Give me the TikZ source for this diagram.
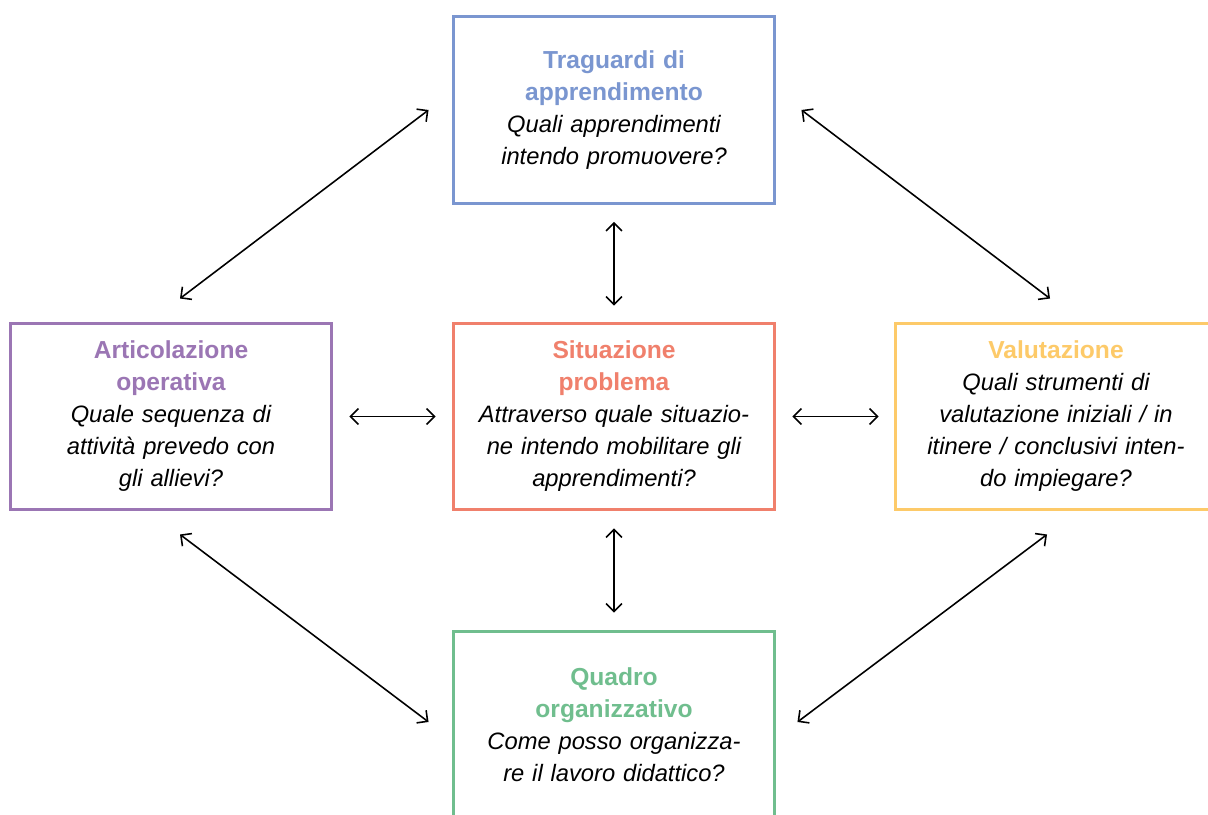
\documentclass[tikz,border=0pt]{standalone}
\usepackage{fontspec}
\setmainfont{Liberation Sans}
\usetikzlibrary{arrows.meta}

\definecolor{blu}{RGB}{122,150,208}
\definecolor{viola}{RGB}{155,118,180}
\definecolor{salmone}{RGB}{240,128,108}
\definecolor{giallo}{RGB}{253,202,105}
\definecolor{verde}{RGB}{112,190,142}

\def\recbase{6.44cm}
\def\recheight{3.74cm}
\newcommand{\titolo}[2]{{\upshape\bfseries\color{#1}\fontsize{14}{18.2}\selectfont #2}\\}

\begin{document}
\begin{tikzpicture}[x=0.02cm,y=0.02cm,
    box/.style={draw,line width=1.7pt,fill=white,minimum width=\recbase,
      minimum height=\recheight,text width=5.6cm,align=center,
      font=\fontsize{13.5}{18.2}\selectfont\itshape},
    link/.style={{Straight Barb[length=4.5pt,width=9pt]}-{Straight Barb[length=4.5pt,width=9pt]},
      line width=0.9pt}]

    \useasboundingbox[fill=white] (0,0) rectangle (1208,815);

    \node[box,draw=blu] (traguardi) at (614,705)
    {\titolo{blu}{Traguardi di\\apprendimento}Quali apprendimenti\\intendo promuovere?};
    \node[box,draw=viola] (articolazione) at (171,398.5)
    {\titolo{viola}{Articolazione\\operativa}Quale sequenza di\\attività prevedo con\\gli allievi?};
    \node[box,draw=salmone] (situazione) at (614,398.5)
    {\titolo{salmone}{Situazione\\problema}Attraverso quale situazio-\\ne intendo mobilitare gli\\apprendimenti?};
    \node[box,draw=giallo] (valutazione) at (1056,398.5)
    {\titolo{giallo}{Valutazione}Quali strumenti di\\valutazione iniziali / in\\itinere / conclusivi inten-\\do impiegare?};
    \node[box,draw=verde] (quadro) at (614,90.5)
    {\titolo{verde}{Quadro\\organizzativo}Come posso organizza-\\re il lavoro didattico?};

    % frecce verso il centro
    \draw[link] ([shift={(0,-17)}]traguardi.south) -- ([shift={(0,16)}]situazione.north);
    \draw[link] ([shift={(16,0)}]articolazione.east) -- ([shift={(-16,0)}]situazione.west);
    \draw[link] ([shift={(16,0)}]situazione.east) -- ([shift={(-15,0)}]valutazione.west);
    \draw[link] ([shift={(0,-17)}]situazione.south) -- ([shift={(0,17)}]quadro.north);

    % frecce diagonali
    \draw[link] ([shift={(-23,0)}]traguardi.west) -- ([shift={(9,23)}]articolazione.north);
    \draw[link] ([shift={(25,0)}]traguardi.east) -- ([shift={(-6,23)}]valutazione.north);
    \draw[link] ([shift={(9,-23)}]articolazione.south) -- ([shift={(-23,2.5)}]quadro.west);
    \draw[link] ([shift={(-9,-23)}]valutazione.south) -- ([shift={(21,2.5)}]quadro.east);
  \end{tikzpicture}
\end{document}
